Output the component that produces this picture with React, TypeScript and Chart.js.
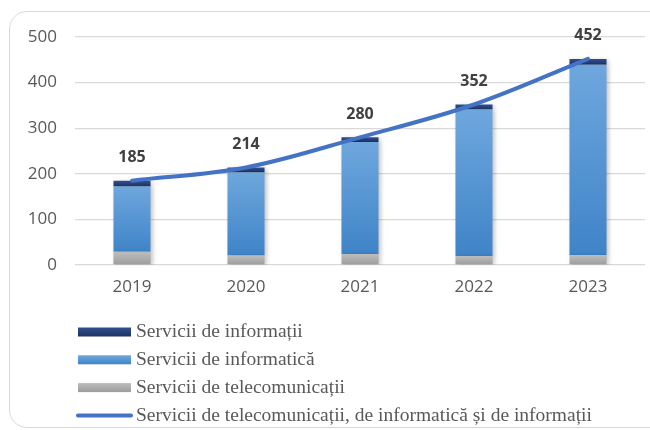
import React, { useEffect, useRef } from 'react';
import { Chart, registerables } from 'chart.js';

Chart.register(...registerables);

const categories = ['2019', '2020', '2021', '2022', '2023'];
const telecom = [29, 21, 24, 20, 22];
const informatica = [143, 182, 246, 321, 417];
const informatii = [13, 11, 10, 11, 13];
const totals = [185, 214, 280, 352, 452];
const yTicks = [0, 100, 200, 300, 400, 500];

const LABEL_TELECOM = 'Servicii de telecomunicații';
const LABEL_INFORMATICA = 'Servicii de informatică';
const LABEL_INFORMATII = 'Servicii de informații';
const LABEL_TOTAL = 'Servicii de telecomunicații, de informatică și de informații';

const barStack = [telecom, informatica, informatii];

const gradStops: Record<string, [string, string]> = {
  telecom: ['#bdbdbd', '#9c9c9c'],
  informatica: ['#6ea7dd', '#3f84c8'],
  informatii: ['#2f4f8f', '#1c3461'],
};

function makeBarColor(key: string, stackIdx: number) {
  return (c: any) => {
    const chart = c.chart;
    const y = chart.scales && chart.scales.y;
    const [top, bottom] = gradStops[key];
    if (!y || c.dataIndex === undefined) return top;
    let base = 0;
    for (let s = 0; s < stackIdx; s++) base += barStack[s][c.dataIndex];
    const val = barStack[stackIdx][c.dataIndex];
    const yTop = y.getPixelForValue(base + val);
    const yBot = y.getPixelForValue(base);
    if (!isFinite(yTop) || !isFinite(yBot) || yTop === yBot) return top;
    const g = chart.ctx.createLinearGradient(0, yTop, 0, yBot);
    g.addColorStop(0, top);
    g.addColorStop(1, bottom);
    return g;
  };
}

const shadowPlugin = {
  id: 'barShadow',
  beforeDatasetDraw(chart: any, args: any) {
    if (args.meta.type !== 'bar') return;
    const ctx = chart.ctx;
    ctx.save();
    ctx.shadowColor = 'rgba(0,0,0,0.22)';
    ctx.shadowBlur = 4;
    ctx.shadowOffsetX = 2;
    ctx.shadowOffsetY = 1;
  },
  afterDatasetDraw(chart: any, args: any) {
    if (args.meta.type !== 'bar') return;
    chart.ctx.restore();
  },
};

const valueLabelPlugin = {
  id: 'valueLabels',
  afterDatasetsDraw(chart: any) {
    const meta = chart.getDatasetMeta(0);
    const ctx = chart.ctx;
    ctx.save();
    ctx.font = 'bold 16px "Open Sans"';
    ctx.fillStyle = '#404040';
    ctx.textAlign = 'center';
    ctx.textBaseline = 'middle';
    meta.data.forEach((pt: any, i: number) => {
      ctx.fillText(String(totals[i]), pt.x, pt.y - 23);
    });
    ctx.restore();
  },
};

const legendPlugin = {
  id: 'customLegend',
  afterDraw(chart: any) {
    const ctx = chart.ctx;
    const items = [
      { label: LABEL_INFORMATII, kind: 'bar', stops: gradStops.informatii },
      { label: LABEL_INFORMATICA, kind: 'bar', stops: gradStops.informatica },
      { label: LABEL_TELECOM, kind: 'bar', stops: gradStops.telecom },
      { label: LABEL_TOTAL, kind: 'line', color: '#4472c4' },
    ];
    const x0 = 78;
    const symW = 53;
    const textX = 136;
    const y0 = 332;
    const dy = 27.8;
    ctx.save();
    ctx.font = '19.5px "Liberation Serif"';
    ctx.textBaseline = 'middle';
    ctx.textAlign = 'left';
    items.forEach((it: any, i: number) => {
      const yc = y0 + i * dy;
      if (it.kind === 'bar') {
        const h = 9;
        const g = ctx.createLinearGradient(0, yc - h / 2, 0, yc + h / 2);
        g.addColorStop(0, it.stops[0]);
        g.addColorStop(1, it.stops[1]);
        ctx.fillStyle = g;
        ctx.fillRect(x0, yc - h / 2, symW, h);
      } else {
        ctx.strokeStyle = it.color;
        ctx.lineWidth = 4;
        ctx.lineCap = 'round';
        ctx.beginPath();
        ctx.moveTo(x0, yc);
        ctx.lineTo(x0 + symW, yc);
        ctx.stroke();
      }
      ctx.fillStyle = '#595959';
      ctx.fillText(it.label, textX, yc);
    });
    ctx.restore();
  },
};

export default function App() {
  const ref = useRef<HTMLCanvasElement | null>(null);

  useEffect(() => {
    if (!ref.current) return;
    const chart = new Chart(ref.current, {
      type: 'bar',
      data: {
        labels: categories,
        datasets: [
          {
            type: 'line',
            label: LABEL_TOTAL,
            data: totals,
            borderColor: '#4472c4',
            borderWidth: 4,
            pointRadius: 0,
            tension: 0.35,
            borderCapStyle: 'round',
            fill: false,
            stack: 'total',
            order: 0,
          } as any,
          {
            label: LABEL_TELECOM,
            data: telecom,
            backgroundColor: makeBarColor('telecom', 0),
            stack: 'bars',
            barPercentage: 0.65,
            categoryPercentage: 0.5,
            order: 1,
          },
          {
            label: LABEL_INFORMATICA,
            data: informatica,
            backgroundColor: makeBarColor('informatica', 1),
            stack: 'bars',
            barPercentage: 0.65,
            categoryPercentage: 0.5,
            order: 1,
          },
          {
            label: LABEL_INFORMATII,
            data: informatii,
            backgroundColor: makeBarColor('informatii', 2),
            stack: 'bars',
            barPercentage: 0.65,
            categoryPercentage: 0.5,
            order: 1,
          },
        ],
      },
      options: {
        responsive: false,
        animation: false,
        layout: { padding: { top: 37, right: 5, left: 0, bottom: 0 } },
        plugins: {
          legend: { display: false },
          tooltip: { enabled: false },
        },
        scales: {
          x: {
            stacked: true,
            grid: { display: false, drawTicks: false },
            border: { display: false },
            ticks: {
              color: '#595959',
              font: { family: '"Open Sans"', size: 17 },
              padding: 12,
            },
            afterFit: (s: any) => {
              s.height = 165;
            },
          },
          y: {
            stacked: true,
            min: 0,
            max: 500,
            afterBuildTicks: (s: any) => {
              s.ticks = yTicks.map((v) => ({ value: v }));
            },
            grid: { color: '#d9d9d9', lineWidth: 1.3, drawTicks: false },
            border: { display: false },
            ticks: {
              color: '#595959',
              font: { family: '"Open Sans"', size: 17 },
              padding: 18,
            },
            afterFit: (s: any) => {
              s.width = 75;
            },
          },
        },
      },
      plugins: [shadowPlugin, valueLabelPlugin, legendPlugin],
    });
    return () => chart.destroy();
  }, []);

  return (
    <div style={{ position: 'fixed', left: 0, top: 0, width: 650, height: 430, overflow: 'hidden', background: '#fff' }}>
      <div
        style={{
          position: 'absolute',
          left: 9,
          top: 11,
          width: 690,
          height: 417,
          border: '1.5px solid #d9d9d9',
          borderRadius: 18,
          boxSizing: 'border-box',
        }}
      />
      <div style={{ position: 'absolute', left: 0, top: 0, width: 650, height: 430 }}>
        <canvas ref={ref} width={650} height={430} />
      </div>
    </div>
  );
}
